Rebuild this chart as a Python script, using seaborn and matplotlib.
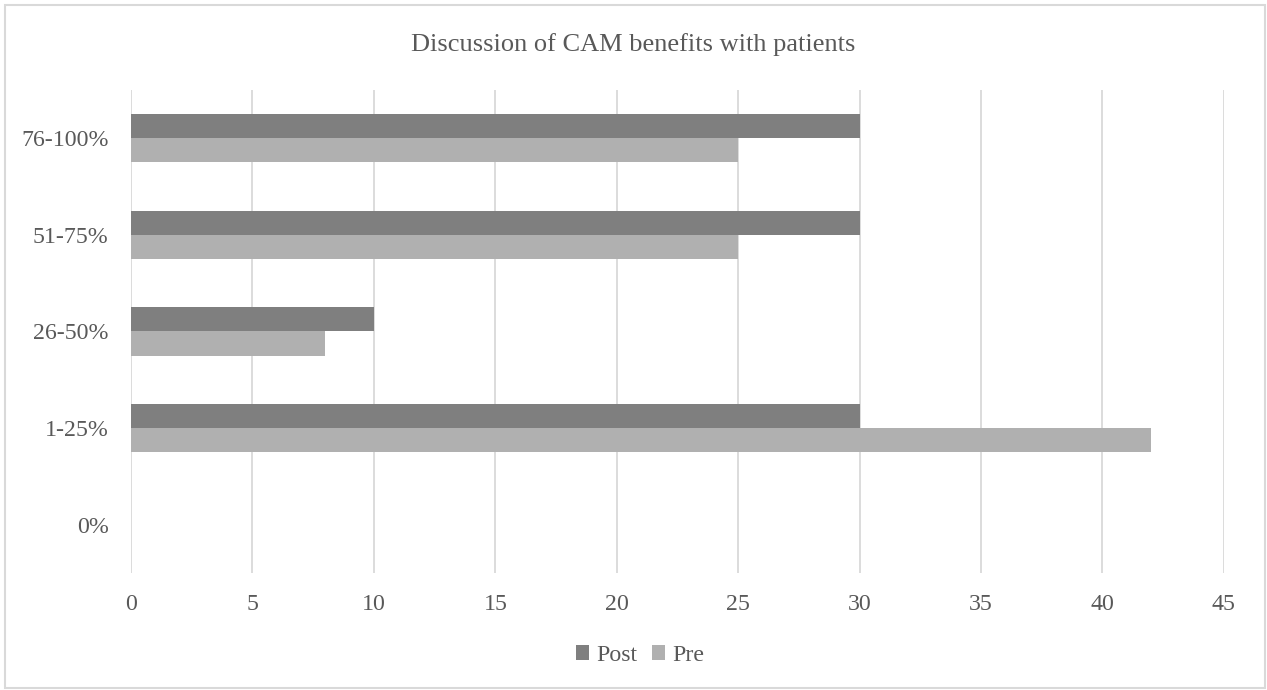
import pandas as pd
import matplotlib.pyplot as plt
import seaborn as sns
from matplotlib.patches import Rectangle, Patch

categories = ['76-100%', '51-75%', '26-50%', '1-25%', '0%']
post = [30, 30, 10, 30, 0]
pre = [25, 25, 8, 42, 0]
series = ['Post', 'Pre']
xticks = [0, 5, 10, 15, 20, 25, 30, 35, 40, 45]

df = pd.DataFrame({
    'category': categories * 2,
    'value': post + pre,
    'series': [s for s in series for _ in categories],
})

sns.set_theme(style='white')
plt.rcParams['font.family'] = ['Liberation Serif', 'DejaVu Serif']
txt = '#595959'
colors = {'Post': '#7f7f7f', 'Pre': '#b0b0b0'}

fig = plt.figure(figsize=(12.67, 6.9), dpi=100)
ax = fig.add_axes([0.1034, 0.1696, 0.8626, 0.7000])

sns.barplot(data=df, x='value', y='category', hue='series', order=categories,
            hue_order=series, palette=colors, orient='h', width=0.5, gap=0,
            saturation=1, linewidth=0, ax=ax, legend=False)

ax.set_xlim(0, 45)
ax.set_xticks(xticks)
ax.set_xlabel('')
ax.set_ylabel('')
ax.grid(axis='x', color='#d9d9d9', linewidth=1.3)
ax.set_axisbelow(True)
for s in ax.spines.values():
    s.set_visible(False)
ax.tick_params(axis='both', length=0, labelsize=17.2, labelcolor=txt)
ax.tick_params(axis='x', pad=15)
ax.tick_params(axis='y', pad=16)

fig.text(0.4996, 0.935, 'Discussion of CAM benefits with patients',
         ha='center', va='center', fontsize=19, color=txt)

handles = [Patch(facecolor=colors[s], edgecolor='none', label=s) for s in series]
fig.legend(handles=handles, loc='center', bbox_to_anchor=(0.505, 0.05), ncol=2,
           frameon=False, fontsize=17.2, labelcolor=txt, handlelength=0.55,
           handleheight=0.55, handletextpad=0.3, columnspacing=0.6)

fig.patches.append(Rectangle((5 / 1267, 2 / 690), 1260 / 1267, 683 / 690,
                             transform=fig.transFigure, fill=False,
                             edgecolor='#d9d9d9', linewidth=1.5))

fig.savefig('out.png', dpi=100, facecolor='white')
